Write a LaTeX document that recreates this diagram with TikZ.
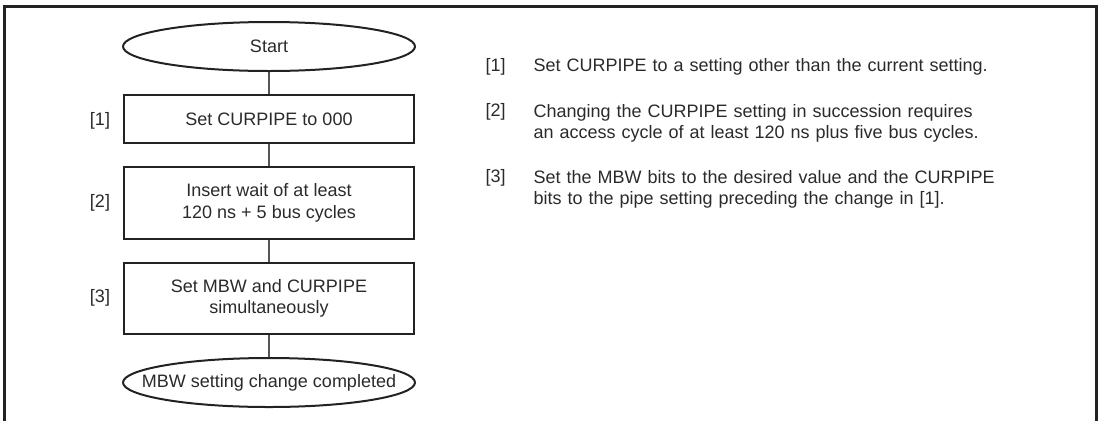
\documentclass[tikz,border=0pt]{standalone}
\usepackage{fontspec}
\setmainfont{Liberation Sans}
\usetikzlibrary{shapes.geometric}
\definecolor{txt}{HTML}{2A2A2A}
\definecolor{ln}{HTML}{222222}
\definecolor{conn}{HTML}{555555}
\begin{document}
\begin{tikzpicture}[x=1pt,y=-1pt,
  every node/.style={font=\fontsize{18}{21.5}\selectfont, text=txt},
  term/.style={ellipse, draw=ln, line width=2pt, minimum width=292pt, minimum height=49pt, inner sep=0pt},
  stepbox/.style={rectangle, draw=ln, line width=2.2pt, minimum width=290pt, inner sep=0pt, align=center},
  conline/.style={draw=conn, line width=1.2pt},
  lbl/.style={anchor=center},
  note/.style={anchor=west, align=left, text width=520pt}
]
\useasboundingbox (0,0) rectangle (1099,421);
% frame
\draw[ln, line width=3pt] (4,421) -- (4,6) -- (1096,6) -- (1096,421);

% flowchart
\node[term] (start) at (269,46.5) {Start};
\node[stepbox, minimum height=48pt] (s1) at (269,119) {Set CURPIPE to 000};
\node[stepbox, minimum height=72pt] (s2) at (269,203) {Insert wait of at least\\120 ns + 5 bus cycles};
\node[stepbox, minimum height=71pt] (s3) at (269,298.5) {Set MBW and CURPIPE\\simultaneously};
\node[term] (end) at (269,382.5) {};
\node (endtext) at (end.center) {MBW setting change completed};

\draw[conline] (start.south) -- (s1.north);
\draw[conline] (s1.south) -- (s2.north);
\draw[conline] (s2.south) -- (s3.north);
\draw[conline] (s3.south) -- (end.north);

\node[lbl] (l1) at (100,121) {[1]};
\node[lbl] (l2) at (100,203) {[2]};
\node[lbl] (l3) at (100,298) {[3]};

% notes
\node[anchor=west] (n1) at (482,67) {[1]};
\node[note] (t1) at (530,67) {Set CURPIPE to a setting other than the current setting.};
\node[anchor=west] (n2) at (482,112) {[2]};
\node[note, anchor=north west] (t2) at (530,100.5) {Changing the CURPIPE setting in succession requires\\an access cycle of at least 120 ns plus five bus cycles.};
\node[anchor=west] (n3) at (482,178) {[3]};
\node[note, anchor=north west] (t3) at (530,166.5) {Set the MBW bits to the desired value and the CURPIPE\\bits to the pipe setting preceding the change in [1].};
\end{tikzpicture}
\end{document}
